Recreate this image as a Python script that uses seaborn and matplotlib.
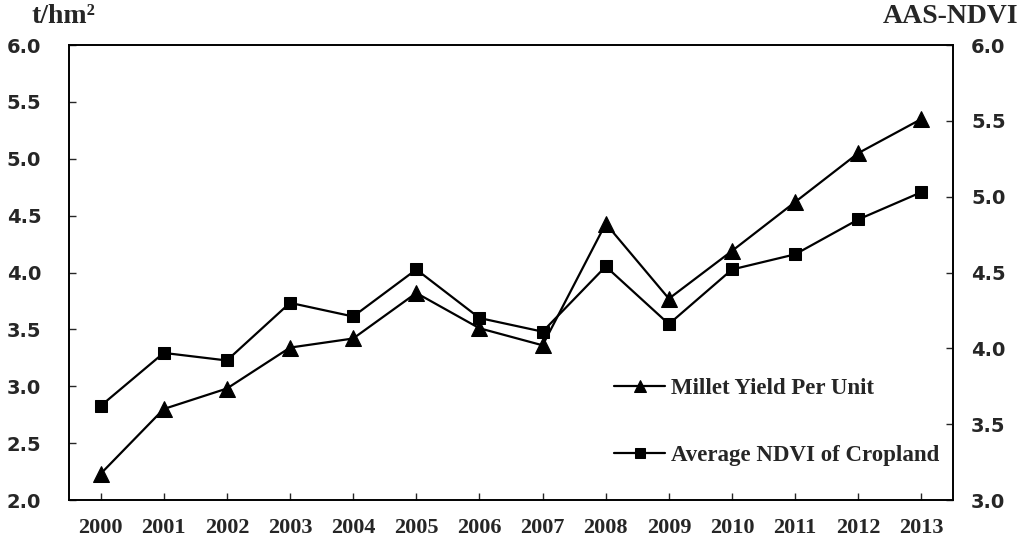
import pandas as pd
import matplotlib
matplotlib.use('Agg')
import matplotlib.pyplot as plt
import seaborn as sns

years = ['2000', '2001', '2002', '2003', '2004', '2005', '2006',
         '2007', '2008', '2009', '2010', '2011', '2012', '2013']
millet_yield = [2.23, 2.80, 2.98, 3.34, 3.42, 3.82, 3.51,
                3.36, 4.43, 3.77, 4.19, 4.62, 5.05, 5.35]
ndvi = [3.62, 3.97, 3.92, 4.30, 4.21, 4.52, 4.20,
        4.11, 4.54, 4.16, 4.52, 4.62, 4.85, 5.03]

left_ticks = [2.0, 2.5, 3.0, 3.5, 4.0, 4.5, 5.0, 5.5, 6.0]
right_ticks = [3.0, 3.5, 4.0, 4.5, 5.0, 5.5, 6.0]

df = pd.DataFrame({'year': years, 'yield': millet_yield, 'ndvi': ndvi})
df['pos'] = range(len(df))

sns.set_style('white')
serif = 'Liberation Serif'
sans = 'DejaVu Sans'

fig = plt.figure(figsize=(10.24, 5.47), dpi=100)
ax = fig.add_axes([0.0674, 0.0859, 0.8633, 0.8318])
ax2 = ax.twinx()

sns.lineplot(data=df, x='pos', y='yield', ax=ax, color='black', lw=1.6,
             marker='^', markersize=11, markeredgecolor='black',
             label='Millet Yield Per Unit', legend=False)
sns.lineplot(data=df, x='pos', y='ndvi', ax=ax2, color='black', lw=1.6,
             marker='s', markersize=9, markeredgecolor='black',
             label='Average NDVI of Cropland', legend=False)

ax.set_xlim(-0.5, len(years) - 0.5)
ax.set_ylim(2.0, 6.0)
ax2.set_ylim(3.0, 6.0)
ax.set_xticks(df['pos'])
ax.set_xticklabels(years, fontfamily=serif, fontweight='bold', fontsize=16)
ax.set_yticks(left_ticks)
ax.set_yticklabels([f'{t:.1f}' for t in left_ticks], fontfamily=sans,
                   fontweight='bold', fontsize=14)
ax2.set_yticks(right_ticks)
ax2.set_yticklabels([f'{t:.1f}' for t in right_ticks], fontfamily=sans,
                    fontweight='bold', fontsize=14)
ax.set_xlabel('')
ax.set_ylabel('')
ax2.set_ylabel('')

ax.tick_params(axis='x', direction='in', length=5, width=1, pad=13, bottom=True)
ax.tick_params(axis='y', direction='in', length=5, width=1, pad=20, left=True)
ax2.tick_params(axis='y', direction='in', length=5, width=1, pad=13, right=True)
for a in (ax, ax2):
    for sp in a.spines.values():
        sp.set_color('black')
        sp.set_linewidth(1.2)

fig.text(0.031, 0.970, 't/hm²', fontfamily=serif, fontweight='bold',
         fontsize=20, va='center', ha='left')
fig.text(0.994, 0.970, 'AAS-NDVI', fontfamily=serif, fontweight='bold',
         fontsize=20, va='center', ha='right')

h1, l1 = ax.get_legend_handles_labels()
h2, l2 = ax2.get_legend_handles_labels()
leg = ax2.legend(h1 + h2, l1 + l2, loc='upper left', bbox_to_anchor=(0.617, 0.268),
                 borderaxespad=0, borderpad=0,
                 frameon=False, labelspacing=2.0, handlelength=2.2,
                 handletextpad=0.25, markerscale=0.8,
                 prop={'family': serif, 'weight': 'bold', 'size': 16.5})

fig.savefig('out.png', dpi=100)
